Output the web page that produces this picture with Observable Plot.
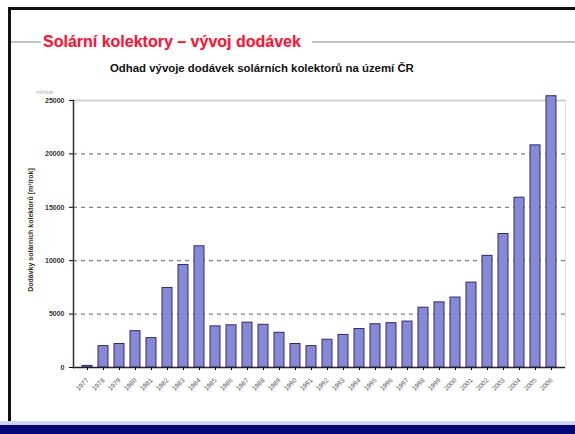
<!DOCTYPE html>
<html><head><meta charset="utf-8">
<script src="https://cdn.jsdelivr.net/npm/d3@7"></script>
<script src="https://cdn.jsdelivr.net/npm/@observablehq/plot@0.6"></script>
<style>
body{margin:0;background:#fff;}
#slide{position:relative;width:575px;height:434px;overflow:hidden;background:#fff;font-family:"Liberation Sans",Arial,sans-serif;}
.abs{position:absolute;}
#title{left:43px;top:32px;font-size:16px;line-height:19px;font-weight:bold;color:#e2203c;white-space:nowrap;text-shadow:0 0 3px #ffc8d0;}
#subtitle{left:110px;top:62px;font-size:11.4px;line-height:13px;font-weight:bold;color:#111;white-space:nowrap;}
#ylabel{left:30px;top:230px;font-size:7px;font-weight:bold;color:#333;white-space:nowrap;transform:translate(-50%,-50%) rotate(-90deg);}
#unit{left:36px;top:89px;font-size:6px;color:#aaa;}
#chart{left:0;top:80px;}
</style></head><body>
<div id="slide">
  <div class="abs" style="left:8px;top:7px;right:0;height:3px;background:#111"></div>
  <div class="abs" style="left:8px;top:7px;width:3px;height:418px;background:#111"></div>
  <div class="abs" style="left:0;top:421px;width:575px;height:4px;background:#cfd6f2"></div>
  <div class="abs" style="left:0;top:425px;width:575px;height:9px;background:#05057a"></div>
  <div class="abs" style="left:11px;top:41px;width:30px;height:2px;background:#c4c4c4"></div>
  <div class="abs" style="left:312px;top:41px;right:0;height:2px;background:#c4c4c4"></div>
  <div id="title" class="abs">Solární kolektory – vývoj dodávek</div>
  <div id="subtitle" class="abs">Odhad vývoje dodávek solárních kolektorů na území ČR</div>
  <div id="unit" class="abs">m²/rok</div>
  <div id="chart" class="abs"></div>
  <div id="ylabel" class="abs">Dodávky solárních kolektorů [m²/rok]</div>
</div>
<script>
const years = [1977,1978,1979,1980,1981,1982,1983,1984,1985,1986,1987,1988,1989,1990,1991,1992,1993,1994,1995,1996,1997,1998,1999,2000,2001,2002,2003,2004,2005,2006].map(String);
const supplies = [150,2000,2200,3400,2750,7450,9600,11350,3850,3950,4200,4000,3250,2200,2000,2600,3050,3600,4050,4150,4300,5600,6100,6550,7950,10450,12500,15900,20800,25400];
const yTicks = [0,5000,10000,15000,20000,25000];
const gridTicks = [5000,10000,15000,20000];

const data = years.map((y,i)=>({year:y, value:supplies[i]}));

const chart = Plot.plot({
  width:575, height:320,
  marginTop:20, marginBottom:33, marginLeft:73, marginRight:10,
  style:{fontFamily:"Liberation Sans, Arial, sans-serif", background:"transparent"},
  x:{type:"band", domain:years, paddingInner:0.4, paddingOuter:0.2},
  y:{domain:[0,25000]},
  marks:[
    Plot.ruleY(gridTicks,{stroke:"#666", strokeDasharray:"4,4", strokeWidth:1}),
    Plot.ruleY([25000],{stroke:"#d0d0d0", strokeWidth:2}),
    Plot.barY(data,{x:"year", y:"value", fill:"#8888d4", stroke:"#2c2c6e", strokeWidth:1}),
    Plot.axisY({ticks:yTicks, tickFormat:d=>String(d), tickSize:4, fontSize:7, fontWeight:"bold", fill:"#333", label:null}),
    Plot.axisX({tickRotate:-45, tickSize:3, fontSize:6.5, fill:"#555", label:null}),
    Plot.ruleY([0],{stroke:"#222", strokeWidth:1.5}),
    Plot.frame({anchor:"left", stroke:"#333", strokeWidth:1.5}),
    Plot.frame({anchor:"right", stroke:"#ddd", strokeWidth:1})
  ]
});
document.getElementById("chart").appendChild(chart);
</script>
</body></html>
